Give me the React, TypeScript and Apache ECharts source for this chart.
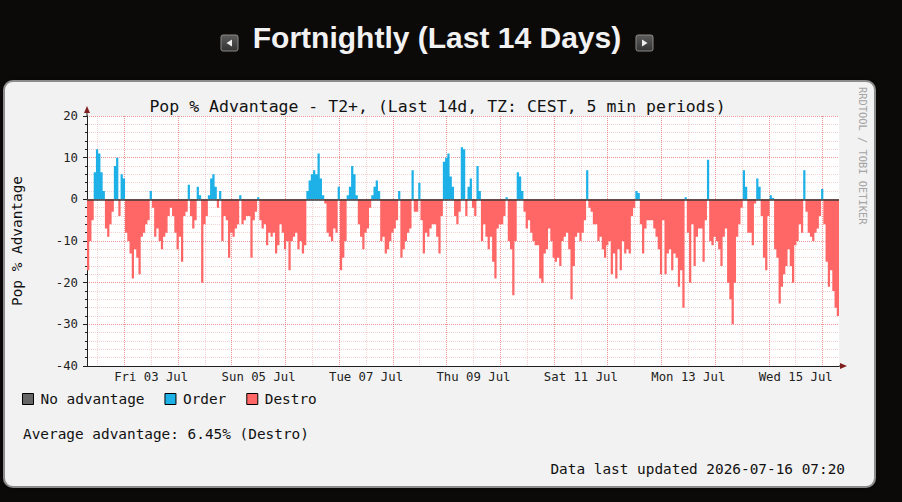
import React, { useEffect, useRef } from "react";
import * as echarts from "echarts";

// Hourly population advantage in percent: positive = Order, negative = Destro.
// Four blocks of 84 hours each, the first hour starting 2026-07-02 07:20 CEST.
const advantageBlock1 = [
  -17, -10, -5, 6.5, 12, 11, 6.5, 2, -7, -9,
  -6, -3, 8, 10, -4, 6, 5, -8, -10, -13,
  -19, -12, -14, -18, -9, -8, -6, -5, 2, -2,
  -9, -7, -10, -12, -9, -8, -4, -2, -4, -8,
  -12, -9, -15, -4, -3, 3.5, -4, -7, -5, 3,
  1, -20, -6, -4, 1, 5, 6, 3, -2, 2,
  -10, -4, -5, -14, -8, -9, -7, -6, 1, -6,
  -5, -4, -4, -14, -5, -3, 0.5, -5, -7, -6,
  -11, -8, -9, -8,
];
const advantageBlock2 = [
  -13, -11, -6, -8, -12, -10, -17, -10, -9, -8,
  -12, -10, -13, -11, 2, 4.5, 6, 7, 6, 11,
  5, 1, -1, -8, -9, -10, -7, -8, 3, -17,
  -14, -10, 1, 3, 8, 6, 1, -6, -9, -12,
  -8, -7, -2, 1, 3, 4.5, 2, -10, -9, -13,
  -12, -10, -8, -7, -5, 2, -14, -12, -10, -8,
  -7, 7, -3, -3, 4, -5, -13, -8, -9, -7,
  -6, -6, -9, -13, -4, 9, 10, 11, 5.5, 3,
  -4, -6, -3, 12.5,
];
const advantageBlock3 = [
  12, -4, 3, 5, -2, -4, 8, 2, -10, -6,
  -9, -12, -9, -15, -19, -7, -6, -6, -4, 0.5,
  -10, -12, -23, -10, 6.5, 5.5, 2, -3, -7, -5,
  -8, -10, -11, -11, -19, -20, -13, -12, -7, -10,
  -14, -15, -14, -16, -10, -9, -8, -12, -24, -16,
  -9, -8, -10, -8, -5, 7, -2, -3, -6, -6,
  -10, -9, -12, -14, -11, -10, -18, -13, -19, -12,
  -17, -10, -13, -12, -13, -4, -2, 2, 1.5, -6,
  -13, -7, -5, -5,
];
const advantageBlock4 = [
  -5, -7, -9, -12, -18, -5, -18, -13, -12, -17,
  -13, -14, -21, -17, -26, 0.5, -8, -20, -6, -16,
  -9, -7, -7, -15, -5, 9.5, -10, -11, -9, -10,
  -12, -16, -9, -7, -20, -24, -30, -20, -9, -6,
  -2, 7, 3, -8, -8, -11, -1, 5, 3, -4,
  -14, -17, -4, 1, 0.3, -12, -14, -25, -21, -18,
  -16, -12, -16, -20, -11, -10, -6, -8, 7, -3,
  -8, -9, -10, -8, -7, -4, 2.5, -6, -15, -21,
  -17, -22, -26, -28,
];

// Time axis in hours after 2026-07-02 00:00
const startHour = 7 + 20 / 60;
const endHour = startHour + 14 * 24;
const dayLabels = ["Fri 03 Jul", "Sun 05 Jul", "Tue 07 Jul", "Thu 09 Jul", "Sat 11 Jul", "Mon 13 Jul", "Wed 15 Jul"];
const labelHours = [36, 84, 132, 180, 228, 276, 324];
const midnightHours = [24, 48, 72, 96, 120, 144, 168, 192, 216, 240, 264, 288, 312, 336];
const noonHours = [12, 36, 60, 84, 108, 132, 156, 180, 204, 228, 252, 276, 300, 324];

const MONO = "'DejaVu Sans Mono', monospace";
const ORDER = "#1DB1E8";
const DESTRO = "#FF6666";
const MAJOR_GRID = "rgba(222,79,79,0.6)";
const MINOR_GRID = "rgba(222,110,110,0.32)";

// Builds a stepped area track: each hourly value holds for its whole hour.
function stepTrack(values: number[], keep: (v: number) => boolean) {
  const pts: [number, number][] = [];
  values.forEach((v, i) => {
    const y = keep(v) ? v : 0;
    pts.push([startHour + i, y]);
    pts.push([startHour + i + 1, y]);
  });
  return pts;
}

export default function App() {
  const ref = useRef<HTMLDivElement>(null);

  useEffect(() => {
    if (!ref.current) return;
    const chart = echarts.init(ref.current, undefined, { renderer: "svg" });

    const advantage = [...advantageBlock1, ...advantageBlock2, ...advantageBlock3, ...advantageBlock4];
    const orderData = stepTrack(advantage, (v) => v > 0);
    const destroData = stepTrack(advantage, (v) => v < 0);

    const areaSeries = (name: string, color: string, data: [number, number][]) => ({
      name,
      type: "line",
      data,
      showSymbol: false,
      symbol: "none",
      lineStyle: { width: 0, color },
      itemStyle: { color },
      areaStyle: { color, opacity: 1, origin: 0 },
    });

    chart.setOption({
      animation: false,
      backgroundColor: "#0c0a09",
      grid: {
        left: 87,
        right: 63,
        top: 116,
        bottom: 136,
        show: true,
        backgroundColor: "#ffffff",
        borderWidth: 0,
      },
      legend: {
        left: 17,
        top: 387,
        icon: "rect",
        itemWidth: 11,
        itemHeight: 11,
        itemGap: 20,
        selectedMode: false,
        data: ["No advantage", "Order", "Destro"],
        itemStyle: { borderColor: "#000", borderWidth: 1 },
        textStyle: { fontFamily: MONO, fontSize: 14.4, color: "#111", padding: [0, 0, 0, 2] },
      },
      xAxis: [
        {
          type: "value",
          min: startHour,
          max: endHour,
          axisLine: { show: true, onZero: false, lineStyle: { color: "#1f1f1f", width: 1 } },
          axisTick: { show: false, customValues: midnightHours },
          axisLabel: {
            customValues: labelHours,
            formatter: (v: number) => dayLabels[labelHours.indexOf(v)] ?? "",
            fontFamily: MONO,
            fontSize: 12.3,
            color: "#222",
            margin: 5,
          },
          splitLine: { show: true, lineStyle: { color: MAJOR_GRID, type: [1, 1] } },
        },
        {
          type: "value",
          min: startHour,
          max: endHour,
          position: "bottom",
          axisLine: { show: false },
          axisTick: { show: false, customValues: noonHours },
          axisLabel: { show: false },
          splitLine: { show: true, lineStyle: { color: MINOR_GRID, type: [1, 1] } },
        },
      ],
      yAxis: {
        type: "value",
        min: -40,
        max: 20,
        interval: 10,
        name: "Pop % Advantage",
        nameLocation: "middle",
        nameGap: 63,
        nameRotate: 90,
        nameTextStyle: { fontFamily: MONO, fontSize: 14.4, color: "#111" },
        axisLine: { show: true, lineStyle: { color: "#1f1f1f", width: 1 } },
        axisTick: { show: true, length: 4, lineStyle: { color: "#1f1f1f" } },
        minorTick: { show: true, splitNumber: 5, length: 2, lineStyle: { color: "#1f1f1f" } },
        axisLabel: { fontFamily: MONO, fontSize: 12.3, color: "#222", margin: 9 },
        splitLine: { show: true, lineStyle: { color: MAJOR_GRID, type: [1, 1] } },
        minorSplitLine: { show: true, lineStyle: { color: MINOR_GRID, type: [1, 1] } },
      },
      series: [
        {
          name: "No advantage",
          type: "line",
          data: [],
          showSymbol: false,
          itemStyle: { color: "#666666" },
          lineStyle: { color: "#666666" },
        },
        areaSeries("Order", ORDER, orderData),
        {
          ...areaSeries("Destro", DESTRO, destroData),
          markLine: {
            silent: true,
            symbol: ["none", "none"],
            label: { show: false },
            lineStyle: { color: "#3a3a3a", width: 1.5, type: "solid" },
            data: [{ yAxis: 0 }],
          },
        },
      ],
      graphic: [
        {
          type: "rect",
          z: -1,
          shape: { x: 4, y: 81, width: 871, height: 406, r: 9 },
          style: { fill: "#f2f2f2", stroke: "#8c8c8c", lineWidth: 2, shadowBlur: 6, shadowColor: "rgba(0,0,0,0.6)" },
        },
        // navigation buttons beside the heading
        {
          type: "rect",
          shape: { x: 221, y: 35, width: 17, height: 16, r: 2 },
          style: {
            fill: new echarts.graphic.LinearGradient(0, 0, 0, 1, [
              { offset: 0, color: "#5c5c5c" },
              { offset: 1, color: "#333" },
            ]),
            stroke: "#8a8a8a",
            lineWidth: 1,
          },
        },
        { type: "polygon", shape: { points: [[226.5, 43], [232, 39.5], [232, 46.5]] }, style: { fill: "#eee" } },
        {
          type: "rect",
          shape: { x: 636, y: 35, width: 17, height: 16, r: 2 },
          style: {
            fill: new echarts.graphic.LinearGradient(0, 0, 0, 1, [
              { offset: 0, color: "#5c5c5c" },
              { offset: 1, color: "#333" },
            ]),
            stroke: "#8a8a8a",
            lineWidth: 1,
          },
        },
        { type: "polygon", shape: { points: [[647.5, 43], [642, 39.5], [642, 46.5]] }, style: { fill: "#eee" } },
        {
          type: "text",
          x: 437,
          y: 37,
          style: {
            text: "Fortnightly (Last 14 Days)",
            fill: "#f2f2f2",
            fontSize: 30,
            fontWeight: "bold",
            fontFamily: "'Liberation Sans', Arial, sans-serif",
            align: "center",
            verticalAlign: "middle",
          },
        },
        {
          type: "text",
          x: 437.5,
          y: 106,
          style: {
            text: "Pop % Advantage - T2+, (Last 14d, TZ: CEST, 5 min periods)",
            fill: "#111",
            fontSize: 16.5,
            fontFamily: MONO,
            align: "center",
            verticalAlign: "middle",
          },
        },
        // axis arrows
        { type: "line", shape: { x1: 87, y1: 116, x2: 87, y2: 111 }, style: { stroke: "#1f1f1f", lineWidth: 1 } },
        { type: "polygon", shape: { points: [[87, 106], [84, 113], [90, 113]] }, style: { fill: "#801f1f" } },
        { type: "line", shape: { x1: 839, y1: 366, x2: 842, y2: 366 }, style: { stroke: "#1f1f1f", lineWidth: 1 } },
        { type: "polygon", shape: { points: [[847, 366], [840, 363], [840, 369]] }, style: { fill: "#801f1f" } },
        {
          type: "text",
          x: 863,
          y: 87,
          rotation: -Math.PI / 2,
          style: {
            text: "RRDTOOL / TOBI OETIKER",
            fill: "#a4a4a4",
            fontSize: 10.4,
            fontFamily: MONO,
            align: "left",
            verticalAlign: "middle",
          },
        },
        {
          type: "text",
          x: 23,
          y: 434,
          style: {
            text: "Average advantage: 6.45% (Destro)",
            fill: "#111",
            fontSize: 14.4,
            fontFamily: MONO,
            align: "left",
            verticalAlign: "middle",
          },
        },
        {
          type: "text",
          x: 845,
          y: 469,
          style: {
            text: "Data last updated 2026-07-16 07:20",
            fill: "#111",
            fontSize: 14.4,
            fontFamily: MONO,
            align: "right",
            verticalAlign: "middle",
          },
        },
      ],
    });

    return () => chart.dispose();
  }, []);

  return <div ref={ref} style={{ position: "fixed", left: 0, top: 0, width: 902, height: 502 }} />;
}
